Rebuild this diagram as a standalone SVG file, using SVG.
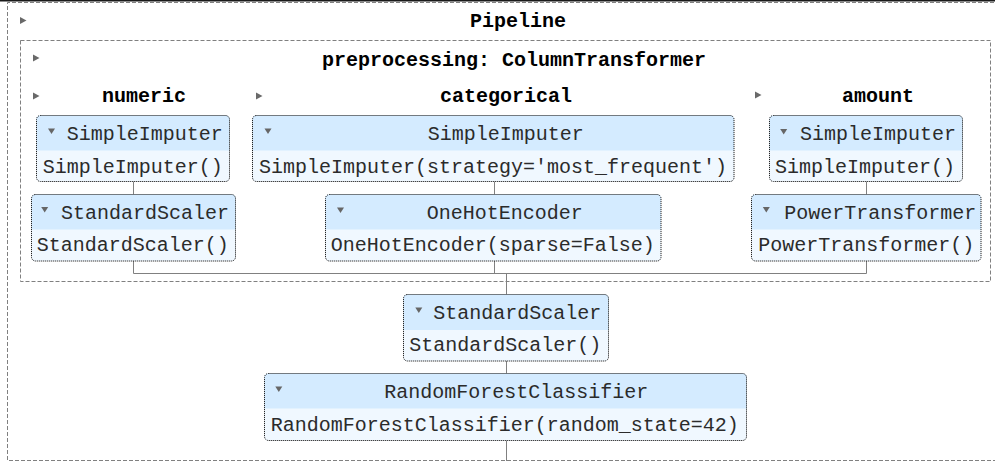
<svg xmlns="http://www.w3.org/2000/svg" width="995" height="461" viewBox="0 0 995 461">
<style>
.box{fill:none;stroke:#808080;stroke-width:1;stroke-dasharray:4 2}
.body{fill:#f0f8ff}
.head{fill:#d4ebff}
.brd{fill:none;stroke:#000;stroke-width:1;stroke-dasharray:1 1}
.t{font-family:"Liberation Mono","DejaVu Sans Mono",monospace;font-size:20px;fill:#2b2b2b}
.h{font-family:"Liberation Mono","DejaVu Sans Mono",monospace;font-size:20px;font-weight:bold;fill:#000}
.rt{fill:#696969}
.dt{fill:#666}
.c{fill:none;stroke:#808080;stroke-width:1}
</style>
<rect x="0" y="0" width="995" height="461" fill="#fff"/>
<rect x="0" y="0" width="995" height="1.5" fill="#1a1a1a"/>
<g id="pipeline">
<path class="box" d="M1000 2.5H7.5V460.5H1000"/>
<polygon class="rt" points="20,17 26.5,20.5 20,24"/>
<text class="h" x="470" y="27">Pipeline</text>
</g>
<g id="preprocessing">
<rect class="box" x="20.5" y="40.5" width="970" height="241"/>
<polygon class="rt" points="33,54.5 39.5,58 33,61.5"/>
<text class="h" x="322" y="66">preprocessing: ColumnTransformer</text>
<polygon class="rt" points="33,92.5 39.5,96 33,99.5"/>
<text class="h" x="102" y="101.5">numeric</text>
<polygon class="rt" points="256,92.5 262.5,96 256,99.5"/>
<text class="h" x="440" y="101.5">categorical</text>
<polygon class="rt" points="755,91.5 761.5,95 755,98.5"/>
<text class="h" x="842" y="101.5">amount</text>
</g>
<g id="connectors">
<path class="c" d="M133.5 181.5V194.5M133.5 261V273.5H866.5V261M866.5 181.5V194.5M494.5 181.5V194.5M494.5 261V273.5M506.5 273.5V294.5M506.5 361V373.5M506.5 440.5V461"/>
</g>
<g id="num_imputer">
<rect class="body" x="36.5" y="115.5" width="193" height="66" rx="4"/>
<path class="head" d="M36.5 150.5V119.5A4 4 0 0 1 40.5 115.5H225.5A4 4 0 0 1 229.5 119.5V150.5Z"/>
<rect class="brd" x="36.5" y="115.5" width="193" height="66" rx="4"/>
<polygon class="dt" points="48,128.5 55,128.5 51.5,134"/>
<text class="t" x="66.7" y="139.5">SimpleImputer</text>
<text class="t" x="42.7" y="172.5">SimpleImputer()</text>
</g>
<g id="num_scaler">
<rect class="body" x="31.5" y="194.5" width="204" height="66.5" rx="4"/>
<path class="head" d="M31.5 229.5V198.5A4 4 0 0 1 35.5 194.5H231.5A4 4 0 0 1 235.5 198.5V229.5Z"/>
<rect class="brd" x="31.5" y="194.5" width="204" height="66.5" rx="4"/>
<polygon class="dt" points="41.2,207 48.2,207 44.7,212.5"/>
<text class="t" x="61" y="218.5">StandardScaler</text>
<text class="t" x="36.7" y="251">StandardScaler()</text>
</g>
<g id="cat_imputer">
<rect class="body" x="252.5" y="115.5" width="481.5" height="66" rx="4"/>
<path class="head" d="M252.5 150.5V119.5A4 4 0 0 1 256.5 115.5H730A4 4 0 0 1 734 119.5V150.5Z"/>
<rect class="brd" x="252.5" y="115.5" width="481.5" height="66" rx="4"/>
<polygon class="dt" points="264.5,128.5 271.5,128.5 268,134"/>
<text class="t" x="427.7" y="139.5">SimpleImputer</text>
<text class="t" x="259" y="172.5">SimpleImputer(strategy='most_frequent')</text>
</g>
<g id="cat_onehot">
<rect class="body" x="325.5" y="194.5" width="335.5" height="66.5" rx="4"/>
<path class="head" d="M325.5 229.5V198.5A4 4 0 0 1 329.5 194.5H657A4 4 0 0 1 661 198.5V229.5Z"/>
<rect class="brd" x="325.5" y="194.5" width="335.5" height="66.5" rx="4"/>
<polygon class="dt" points="337,207.5 344,207.5 340.5,213"/>
<text class="t" x="426.7" y="218.5">OneHotEncoder</text>
<text class="t" x="330.7" y="251">OneHotEncoder(sparse=False)</text>
</g>
<g id="amt_imputer">
<rect class="body" x="769.5" y="115.5" width="193" height="66" rx="4"/>
<path class="head" d="M769.5 150.5V119.5A4 4 0 0 1 773.5 115.5H958.5A4 4 0 0 1 962.5 119.5V150.5Z"/>
<rect class="brd" x="769.5" y="115.5" width="193" height="66" rx="4"/>
<polygon class="dt" points="780.2,129 787.2,129 783.7,134.5"/>
<text class="t" x="800" y="139.5">SimpleImputer</text>
<text class="t" x="775" y="172.5">SimpleImputer()</text>
</g>
<g id="amt_power">
<rect class="body" x="751.5" y="194.5" width="229.5" height="66.5" rx="4"/>
<path class="head" d="M751.5 229.5V198.5A4 4 0 0 1 755.5 194.5H977A4 4 0 0 1 981 198.5V229.5Z"/>
<rect class="brd" x="751.5" y="194.5" width="229.5" height="66.5" rx="4"/>
<polygon class="dt" points="762.8,207 769.8,207 766.3,212.5"/>
<text class="t" x="784.3" y="218.5">PowerTransformer</text>
<text class="t" x="758.3" y="251">PowerTransformer()</text>
</g>
<g id="scaler">
<rect class="body" x="403.5" y="294.5" width="205" height="66.5" rx="4"/>
<path class="head" d="M403.5 330V298.5A4 4 0 0 1 407.5 294.5H604.5A4 4 0 0 1 608.5 298.5V330Z"/>
<rect class="brd" x="403.5" y="294.5" width="205" height="66.5" rx="4"/>
<polygon class="dt" points="415.3,307.5 422.3,307.5 418.8,313"/>
<text class="t" x="433.3" y="318.5">StandardScaler</text>
<text class="t" x="409.3" y="351">StandardScaler()</text>
</g>
<g id="classifier">
<rect class="body" x="264.5" y="373.5" width="482" height="67" rx="4"/>
<path class="head" d="M264.5 408.5V377.5A4 4 0 0 1 268.5 373.5H742.5A4 4 0 0 1 746.5 377.5V408.5Z"/>
<rect class="brd" x="264.5" y="373.5" width="482" height="67" rx="4"/>
<polygon class="dt" points="275.3,386.5 282.3,386.5 278.8,392"/>
<text class="t" x="384.3" y="397.5">RandomForestClassifier</text>
<text class="t" x="270.7" y="430.5">RandomForestClassifier(random_state=42)</text>
</g>
</svg>
